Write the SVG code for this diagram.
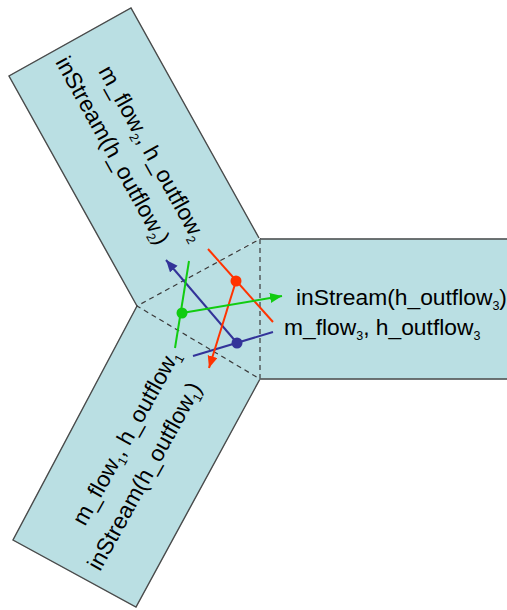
<svg xmlns="http://www.w3.org/2000/svg" width="507" height="610" viewBox="0 0 507 610">
<defs>
<style>
.fill{fill:#badfe3;stroke:#badfe3;stroke-width:1}
.edge{fill:none;stroke:#4a4a4a;stroke-width:1.4;stroke-linejoin:miter}
.dash{fill:none;stroke:#3a3a3a;stroke-width:1.2;stroke-dasharray:5 4}
.lbl{font-family:"Liberation Sans",Arial,sans-serif;font-size:22.8px;fill:#000}
.sub{font-size:12.5px}
.blue{stroke:#333399;stroke-width:2;fill:none}
.red{stroke:#ff3300;stroke-width:2;fill:none}
.green{stroke:#11cc11;stroke-width:2;fill:none}
</style>
<marker id="ab" markerUnits="userSpaceOnUse" markerWidth="14" markerHeight="12" refX="12" refY="5" orient="auto"><path d="M0,0 L12,5 L0,10 Z" fill="#333399"/></marker>
<marker id="ar" markerUnits="userSpaceOnUse" markerWidth="14" markerHeight="12" refX="12" refY="5" orient="auto"><path d="M0,0 L12,5 L0,10 Z" fill="#ff3300"/></marker>
<marker id="ag" markerUnits="userSpaceOnUse" markerWidth="14" markerHeight="12" refX="12" refY="5" orient="auto"><path d="M0,0 L12,5 L0,10 Z" fill="#11cc11"/></marker>
</defs>
<g id="arm2">
<polygon class="fill" points="137,306 9,76 131,8 259,238"/>
<polyline class="edge" points="137,306 9,76 131,8 259,238"/>
</g>
<g id="arm3">
<polygon class="fill" points="260,239 512,239 512,379 260,379"/>
<polyline class="edge" points="260,239 512,239"/>
<polyline class="edge" points="260,379 512,379"/>
</g>
<g id="arm1">
<polygon class="fill" points="137,306 260,379 136,607 13,540"/>
<polyline class="edge" points="260,379 136,607 13,540 137,306"/>
</g>
<g id="junction">
<polygon class="fill" points="260,239 260,379 137,306"/>
<polygon class="dash" points="260,239 260,379 137,306"/>
</g>
<g id="label2">
<text class="lbl" transform="translate(98,71) rotate(61)">m_flow<tspan class="sub" dy="5">2</tspan><tspan dy="-5">, h_outflow</tspan><tspan class="sub" dy="5">2</tspan></text>
<text class="lbl" transform="translate(55,62) rotate(61)">inStream(h_outflow<tspan class="sub" dy="5">2</tspan><tspan dy="-5">)</tspan></text>
</g>
<g id="label1">
<text class="lbl" transform="translate(85,527) rotate(-61)">m_flow<tspan class="sub" dy="5">1</tspan><tspan dy="-5">, h_outflow</tspan><tspan class="sub" dy="5">1</tspan></text>
<text class="lbl" transform="translate(100,572) rotate(-61)">inStream(h_outflow<tspan class="sub" dy="5">1</tspan><tspan dy="-5">)</tspan></text>
</g>
<g id="label3">
<text class="lbl" x="296" y="305">inStream(h_outflow<tspan class="sub" dy="5">3</tspan><tspan dy="-5">)</tspan></text>
<text class="lbl" x="284" y="335">m_flow<tspan class="sub" dy="5">3</tspan><tspan dy="-5">, h_outflow</tspan><tspan class="sub" dy="5">3</tspan></text>
</g>
<g id="connectors">
<line class="blue" x1="193" y1="356" x2="273" y2="332"/>
<line class="blue" x1="237" y1="343" x2="166" y2="260" marker-end="url(#ab)"/>
<circle cx="237" cy="343" r="5.5" fill="#333399"/>
<line class="red" x1="208" y1="249" x2="273" y2="322"/>
<line class="red" x1="236" y1="281" x2="209" y2="368" marker-end="url(#ar)"/>
<circle cx="236" cy="281" r="5.5" fill="#ff3300"/>
<line class="green" x1="189" y1="261" x2="175" y2="348"/>
<line class="green" x1="182" y1="313" x2="282" y2="296" marker-end="url(#ag)"/>
<circle cx="182" cy="313" r="5.5" fill="#11cc11"/>
</g>
</svg>
